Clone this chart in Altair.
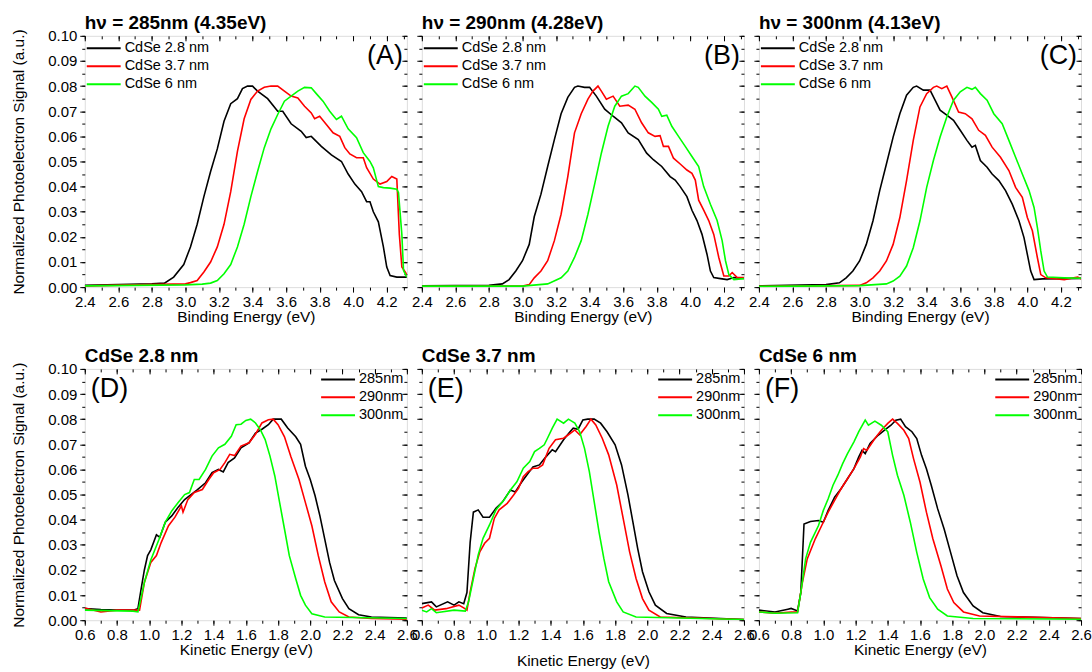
import altair as alt
import pandas as pd

FONT = "Liberation Sans"
W, H = 323, 252
COLORS = ["#000000", "#ff0000", "#00ff00"]
TOP_LABELS = ["CdSe 2.8 nm", "CdSe 3.7 nm", "CdSe 6 nm"]
BOT_LABELS = ["285nm", "290nm", "300nm"]
Y_LABEL = "Normalized Photoelectron Signal (a.u.)"

Y_TICKS = [round(i * 0.01, 2) for i in range(11)]
Y_MINOR = [round(i * 0.005, 3) for i in range(21)]
BE_TICKS = [2.4, 2.6, 2.8, 3.0, 3.2, 3.4, 3.6, 3.8, 4.0, 4.2]
BE_MINOR = [2.4, 2.5, 2.6, 2.7, 2.8, 2.9, 3.0, 3.1, 3.2, 3.3, 3.4, 3.5, 3.6, 3.7, 3.8, 3.9, 4.0, 4.1, 4.2, 4.3]
KE_TICKS = [0.6, 0.8, 1.0, 1.2, 1.4, 1.6, 1.8, 2.0, 2.2, 2.4, 2.6]
KE_MINOR = [0.6, 0.7, 0.8, 0.9, 1.0, 1.1, 1.2, 1.3, 1.4, 1.5, 1.6, 1.7, 1.8, 1.9, 2.0, 2.1, 2.2, 2.3, 2.4, 2.5, 2.6]
BE_DOMAIN = [2.4, 4.32]
KE_DOMAIN = [0.6, 2.6]

# ---------------- Panel A: hv = 285 nm ----------------
A_28_X = [2.40, 2.80, 2.875, 2.93, 2.99, 3.03, 3.07, 3.11, 3.15, 3.19, 3.23, 3.27, 3.31, 3.34, 3.37, 3.40, 3.43, 3.49, 3.55, 3.58, 3.63, 3.69, 3.72, 3.75, 3.81, 3.87, 3.93, 3.97, 4.01, 4.05, 4.08, 4.10, 4.12, 4.15, 4.18, 4.20, 4.22, 4.26, 4.32]
A_28_Y = [0.0007, 0.0013, 0.0016, 0.004, 0.009, 0.016, 0.025, 0.036, 0.046, 0.055, 0.066, 0.073, 0.075, 0.079, 0.080, 0.080, 0.078, 0.075, 0.070, 0.070, 0.065, 0.062, 0.0595, 0.060, 0.056, 0.0526, 0.050, 0.045, 0.041, 0.038, 0.034, 0.034, 0.030, 0.026, 0.016, 0.008, 0.0046, 0.004, 0.004]
A_37_X = [2.40, 3.00, 3.03, 3.07, 3.11, 3.15, 3.19, 3.23, 3.27, 3.31, 3.35, 3.39, 3.43, 3.47, 3.51, 3.55, 3.59, 3.63, 3.67, 3.71, 3.75, 3.77, 3.80, 3.84, 3.88, 3.92, 3.95, 3.98, 4.02, 4.06, 4.08, 4.12, 4.16, 4.20, 4.23, 4.26, 4.275, 4.29, 4.32]
A_37_Y = [0.0005, 0.0013, 0.0018, 0.0026, 0.006, 0.010, 0.016, 0.025, 0.038, 0.054, 0.067, 0.0747, 0.078, 0.0795, 0.080, 0.080, 0.078, 0.076, 0.0753, 0.072, 0.0693, 0.067, 0.068, 0.0647, 0.0614, 0.060, 0.0555, 0.053, 0.0515, 0.0515, 0.0475, 0.043, 0.041, 0.042, 0.044, 0.043, 0.021, 0.008, 0.005]
A_60_X = [2.40, 3.00, 3.10, 3.15, 3.19, 3.23, 3.27, 3.31, 3.35, 3.39, 3.43, 3.47, 3.51, 3.55, 3.59, 3.63, 3.67, 3.71, 3.75, 3.78, 3.82, 3.86, 3.90, 3.93, 3.97, 4.02, 4.06, 4.10, 4.12, 4.15, 4.18, 4.22, 4.26, 4.27, 4.29, 4.30, 4.32]
A_60_Y = [0.0005, 0.0009, 0.0012, 0.0016, 0.0026, 0.0053, 0.009, 0.016, 0.025, 0.036, 0.046, 0.0555, 0.063, 0.0687, 0.074, 0.076, 0.078, 0.0795, 0.0793, 0.077, 0.074, 0.070, 0.0667, 0.068, 0.063, 0.0595, 0.0535, 0.050, 0.0475, 0.040, 0.0396, 0.0394, 0.039, 0.0376, 0.021, 0.0066, 0.004]

# ---------------- Panel B: hv = 290 nm ----------------
B_28_X = [2.40, 2.80, 2.88, 2.92, 2.96, 3.00, 3.04, 3.07, 3.11, 3.15, 3.19, 3.23, 3.27, 3.31, 3.33, 3.37, 3.40, 3.44, 3.49, 3.54, 3.59, 3.63, 3.69, 3.74, 3.78, 3.83, 3.88, 3.91, 3.94, 3.98, 4.01, 4.04, 4.07, 4.10, 4.12, 4.14, 4.18, 4.22, 4.26, 4.32]
B_28_Y = [0.0005, 0.0007, 0.0013, 0.003, 0.0064, 0.0105, 0.017, 0.028, 0.037, 0.048, 0.0587, 0.069, 0.0755, 0.0795, 0.080, 0.0795, 0.0795, 0.076, 0.0708, 0.068, 0.0654, 0.0614, 0.0587, 0.0533, 0.0507, 0.048, 0.044, 0.0426, 0.040, 0.036, 0.0306, 0.0265, 0.021, 0.013, 0.0064, 0.0038, 0.0034, 0.003, 0.0038, 0.0035]
B_37_X = [2.40, 3.00, 3.04, 3.07, 3.11, 3.15, 3.19, 3.23, 3.27, 3.31, 3.35, 3.39, 3.42, 3.45, 3.47, 3.50, 3.54, 3.58, 3.63, 3.67, 3.71, 3.75, 3.79, 3.82, 3.84, 3.87, 3.90, 3.94, 3.98, 4.01, 4.03, 4.05, 4.08, 4.11, 4.14, 4.17, 4.20, 4.23, 4.25, 4.28, 4.32]
B_37_Y = [0.0003, 0.0004, 0.001, 0.0037, 0.0064, 0.0105, 0.0185, 0.029, 0.044, 0.0614, 0.069, 0.0748, 0.078, 0.080, 0.078, 0.0748, 0.076, 0.072, 0.0724, 0.0708, 0.0654, 0.0614, 0.060, 0.0603, 0.056, 0.056, 0.0513, 0.049, 0.0466, 0.0453, 0.0426, 0.0346, 0.0306, 0.0265, 0.021, 0.0118, 0.0044, 0.0044, 0.0058, 0.0038, 0.0038]
B_60_X = [2.40, 3.00, 3.15, 3.23, 3.27, 3.31, 3.35, 3.39, 3.43, 3.47, 3.51, 3.55, 3.59, 3.63, 3.67, 3.69, 3.73, 3.77, 3.81, 3.83, 3.86, 3.89, 3.93, 3.97, 4.01, 4.05, 4.08, 4.12, 4.16, 4.19, 4.21, 4.23, 4.26, 4.32]
B_60_Y = [0.0004, 0.0004, 0.0013, 0.0037, 0.0064, 0.0118, 0.0185, 0.029, 0.041, 0.0533, 0.064, 0.072, 0.076, 0.077, 0.080, 0.0795, 0.076, 0.0735, 0.0708, 0.068, 0.0684, 0.064, 0.060, 0.056, 0.052, 0.048, 0.040, 0.033, 0.0265, 0.0185, 0.0105, 0.005, 0.003, 0.0034]

# ---------------- Panel C: hv = 300 nm ----------------
C_28_X = [2.40, 2.80, 2.88, 2.92, 2.96, 3.00, 3.04, 3.08, 3.12, 3.16, 3.20, 3.24, 3.28, 3.32, 3.34, 3.38, 3.42, 3.45, 3.48, 3.52, 3.56, 3.60, 3.64, 3.67, 3.69, 3.72, 3.76, 3.79, 3.83, 3.87, 3.91, 3.95, 3.98, 4.00, 4.02, 4.04, 4.09, 4.22, 4.33]
C_28_Y = [0.0005, 0.001, 0.0017, 0.0037, 0.0064, 0.0104, 0.017, 0.0264, 0.0384, 0.049, 0.0597, 0.069, 0.0764, 0.0795, 0.080, 0.0784, 0.0784, 0.0744, 0.0704, 0.0684, 0.0664, 0.0624, 0.0584, 0.0557, 0.0564, 0.0504, 0.0477, 0.045, 0.0424, 0.0384, 0.033, 0.0264, 0.0197, 0.013, 0.0064, 0.003, 0.0033, 0.0034, 0.0035]
C_37_X = [2.40, 3.00, 3.04, 3.08, 3.12, 3.16, 3.20, 3.24, 3.28, 3.32, 3.36, 3.40, 3.44, 3.46, 3.49, 3.52, 3.55, 3.59, 3.63, 3.67, 3.71, 3.75, 3.79, 3.84, 3.89, 3.93, 3.97, 4.00, 4.03, 4.06, 4.08, 4.11, 4.22, 4.30, 4.33]
C_37_Y = [0.0003, 0.0007, 0.0017, 0.0037, 0.0064, 0.0104, 0.017, 0.0277, 0.0424, 0.0584, 0.0717, 0.077, 0.0795, 0.080, 0.079, 0.080, 0.0757, 0.0697, 0.069, 0.067, 0.0624, 0.0604, 0.0557, 0.0517, 0.0464, 0.0397, 0.0357, 0.0277, 0.0224, 0.0117, 0.005, 0.0037, 0.003, 0.004, 0.003]
C_60_X = [2.40, 3.00, 3.16, 3.20, 3.24, 3.28, 3.32, 3.36, 3.40, 3.44, 3.48, 3.52, 3.56, 3.60, 3.64, 3.67, 3.69, 3.72, 3.76, 3.80, 3.85, 3.89, 3.93, 3.97, 4.01, 4.04, 4.06, 4.08, 4.10, 4.12, 4.22, 4.33]
C_60_Y = [0.0003, 0.0006, 0.0013, 0.0024, 0.0044, 0.0084, 0.0157, 0.0264, 0.0397, 0.0504, 0.0597, 0.0677, 0.0744, 0.0777, 0.0795, 0.0787, 0.0795, 0.077, 0.0744, 0.069, 0.065, 0.0584, 0.0517, 0.045, 0.0384, 0.0317, 0.0237, 0.0144, 0.0064, 0.004, 0.0037, 0.0035]

# ---------------- Panel D: CdSe 2.8 nm ----------------
D_285_X = [0.60, 0.70, 0.80, 0.90, 0.93, 0.95, 0.97, 0.99, 1.01, 1.045, 1.066, 1.10, 1.14, 1.18, 1.22, 1.26, 1.30, 1.35, 1.39, 1.43, 1.46, 1.49, 1.53, 1.57, 1.62, 1.66, 1.70, 1.74, 1.77, 1.82, 1.86, 1.91, 1.94, 1.97, 2.00, 2.03, 2.06, 2.09, 2.12, 2.15, 2.20, 2.24, 2.30, 2.38, 2.60]
D_285_Y = [0.0046, 0.0042, 0.004, 0.004, 0.0046, 0.0125, 0.020, 0.0257, 0.028, 0.034, 0.033, 0.039, 0.0415, 0.045, 0.048, 0.050, 0.052, 0.0547, 0.0587, 0.060, 0.059, 0.0627, 0.0646, 0.0686, 0.0706, 0.0745, 0.076, 0.0778, 0.080, 0.080, 0.0765, 0.073, 0.070, 0.0613, 0.056, 0.0495, 0.0415, 0.0323, 0.023, 0.0158, 0.0086, 0.0046, 0.0022, 0.0013, 0.0009]
D_290_X = [0.60, 0.70, 0.80, 0.90, 0.94, 0.97, 1.01, 1.045, 1.075, 1.12, 1.16, 1.20, 1.21, 1.24, 1.28, 1.33, 1.37, 1.40, 1.44, 1.47, 1.50, 1.53, 1.57, 1.62, 1.66, 1.70, 1.74, 1.77, 1.80, 1.84, 1.88, 1.93, 1.97, 2.01, 2.05, 2.09, 2.13, 2.18, 2.24, 2.38, 2.60]
D_290_Y = [0.0049, 0.0033, 0.004, 0.004, 0.004, 0.015, 0.023, 0.0257, 0.031, 0.0376, 0.041, 0.0455, 0.043, 0.048, 0.0508, 0.052, 0.056, 0.0587, 0.060, 0.0627, 0.066, 0.0655, 0.0693, 0.0706, 0.074, 0.0785, 0.0798, 0.080, 0.0778, 0.073, 0.065, 0.056, 0.0468, 0.0376, 0.0257, 0.0152, 0.0073, 0.0033, 0.0013, 0.0007, 0.0004]
D_300_X = [0.60, 0.90, 0.93, 0.97, 1.01, 1.06, 1.10, 1.14, 1.18, 1.22, 1.25, 1.28, 1.31, 1.35, 1.39, 1.43, 1.47, 1.51, 1.54, 1.57, 1.60, 1.63, 1.66, 1.69, 1.72, 1.75, 1.78, 1.81, 1.84, 1.87, 1.91, 1.94, 1.97, 2.01, 2.09, 2.60]
D_300_Y = [0.004, 0.0036, 0.0033, 0.015, 0.024, 0.032, 0.039, 0.0435, 0.0468, 0.050, 0.0508, 0.056, 0.056, 0.060, 0.0653, 0.0686, 0.070, 0.0732, 0.0778, 0.078, 0.0795, 0.080, 0.0785, 0.0758, 0.0719, 0.0653, 0.0574, 0.0468, 0.0363, 0.0257, 0.0165, 0.0099, 0.006, 0.0026, 0.0013, 0.0007]

# ---------------- Panel E: CdSe 3.7 nm ----------------
E_285_X = [0.60, 0.66, 0.69, 0.76, 0.80, 0.83, 0.86, 0.88, 0.90, 0.92, 0.95, 0.98, 1.02, 1.06, 1.10, 1.15, 1.18, 1.22, 1.26, 1.29, 1.33, 1.37, 1.41, 1.43, 1.48, 1.52, 1.54, 1.57, 1.60, 1.63, 1.67, 1.71, 1.75, 1.80, 1.84, 1.88, 1.91, 1.94, 1.97, 2.01, 2.05, 2.12, 2.24, 2.60]
E_285_Y = [0.0066, 0.0073, 0.0053, 0.0073, 0.006, 0.0073, 0.0066, 0.011, 0.031, 0.043, 0.0439, 0.041, 0.041, 0.0445, 0.047, 0.0518, 0.051, 0.055, 0.0585, 0.061, 0.0618, 0.065, 0.0678, 0.0671, 0.0718, 0.075, 0.0764, 0.076, 0.0797, 0.080, 0.080, 0.0784, 0.075, 0.0698, 0.0618, 0.0498, 0.0392, 0.0286, 0.0193, 0.0113, 0.006, 0.0027, 0.0013, 0.0003]
E_290_X = [0.60, 0.64, 0.68, 0.75, 0.83, 0.86, 0.88, 0.90, 0.93, 0.96, 0.99, 1.02, 1.05, 1.08, 1.13, 1.17, 1.20, 1.23, 1.26, 1.29, 1.32, 1.35, 1.39, 1.43, 1.48, 1.51, 1.55, 1.58, 1.62, 1.65, 1.68, 1.72, 1.76, 1.81, 1.85, 1.89, 1.93, 1.97, 2.01, 2.08, 2.60]
E_290_Y = [0.0049, 0.006, 0.004, 0.0046, 0.006, 0.0049, 0.004, 0.0113, 0.0206, 0.0272, 0.0306, 0.0326, 0.0405, 0.0439, 0.0465, 0.0498, 0.0525, 0.0571, 0.0591, 0.0605, 0.0605, 0.0618, 0.0684, 0.0718, 0.0724, 0.0738, 0.0757, 0.0738, 0.0771, 0.080, 0.0777, 0.0724, 0.0658, 0.0538, 0.0405, 0.0272, 0.0166, 0.0086, 0.004, 0.0013, 0.0003]
E_300_X = [0.60, 0.63, 0.66, 0.69, 0.80, 0.87, 0.89, 0.92, 0.95, 0.98, 1.02, 1.06, 1.11, 1.15, 1.19, 1.23, 1.27, 1.30, 1.33, 1.36, 1.38, 1.41, 1.44, 1.48, 1.51, 1.55, 1.58, 1.61, 1.64, 1.67, 1.70, 1.73, 1.76, 1.81, 1.85, 1.93, 2.60]
E_300_Y = [0.004, 0.0033, 0.0046, 0.003, 0.004, 0.0036, 0.0073, 0.0166, 0.026, 0.0326, 0.0379, 0.0439, 0.0478, 0.0518, 0.0551, 0.0605, 0.0631, 0.0671, 0.0684, 0.0698, 0.0724, 0.0764, 0.080, 0.0784, 0.080, 0.0784, 0.075, 0.0684, 0.0591, 0.0472, 0.0352, 0.0246, 0.0153, 0.0073, 0.0033, 0.0013, 0.0003]

# ---------------- Panel F: CdSe 6 nm ----------------
F_285_X = [0.60, 0.70, 0.78, 0.80, 0.84, 0.86, 0.88, 0.92, 0.97, 1.00, 1.03, 1.07, 1.11, 1.15, 1.19, 1.22, 1.24, 1.26, 1.29, 1.34, 1.38, 1.42, 1.45, 1.48, 1.51, 1.55, 1.58, 1.61, 1.64, 1.67, 1.71, 1.75, 1.79, 1.83, 1.87, 1.93, 1.99, 2.10, 2.60]
F_285_Y = [0.004, 0.0033, 0.0044, 0.0047, 0.0037, 0.011, 0.0383, 0.0393, 0.0397, 0.039, 0.0437, 0.049, 0.0523, 0.0563, 0.0603, 0.065, 0.0676, 0.0663, 0.0703, 0.0736, 0.0756, 0.0776, 0.0796, 0.080, 0.077, 0.075, 0.0723, 0.0656, 0.0603, 0.0537, 0.0443, 0.0363, 0.027, 0.0177, 0.011, 0.0057, 0.003, 0.0015, 0.0007]
F_290_X = [0.60, 0.70, 0.80, 0.84, 0.87, 0.90, 0.95, 0.99, 1.03, 1.07, 1.11, 1.15, 1.19, 1.23, 1.25, 1.27, 1.32, 1.36, 1.40, 1.43, 1.46, 1.50, 1.53, 1.56, 1.60, 1.64, 1.68, 1.73, 1.77, 1.81, 1.87, 1.97, 2.60]
F_290_Y = [0.0033, 0.0028, 0.0033, 0.0033, 0.015, 0.0244, 0.0324, 0.0377, 0.043, 0.0477, 0.0523, 0.0563, 0.0603, 0.065, 0.0683, 0.0676, 0.0723, 0.0756, 0.0783, 0.080, 0.0783, 0.0756, 0.0723, 0.0643, 0.055, 0.043, 0.0324, 0.0217, 0.0124, 0.007, 0.0033, 0.0017, 0.0007]
F_300_X = [0.60, 0.70, 0.84, 0.86, 0.89, 0.92, 0.97, 1.00, 1.03, 1.06, 1.09, 1.12, 1.15, 1.19, 1.22, 1.26, 1.28, 1.32, 1.36, 1.40, 1.43, 1.46, 1.50, 1.54, 1.58, 1.62, 1.66, 1.71, 1.77, 1.93, 2.60]
F_300_Y = [0.0033, 0.0028, 0.003, 0.011, 0.0244, 0.031, 0.0377, 0.0437, 0.0483, 0.0537, 0.0577, 0.0623, 0.0663, 0.071, 0.075, 0.0796, 0.0776, 0.0792, 0.0776, 0.075, 0.0656, 0.0577, 0.0497, 0.039, 0.027, 0.0164, 0.009, 0.0044, 0.0017, 0.0007, 0.0004]


def make_axis(orient, values, size, offset=0, labels=False, title=None, fmt=".1f",
              label_pad=3, title_pad=2, title_size=15.5):
    kw = dict(orient=orient, values=values, tickSize=size, grid=False, domain=False,
              labels=labels, tickColor="black", tickWidth=1, title=title,
              labelFlush=False, labelOverlap=False)
    if offset:
        kw["offset"] = offset
    if labels:
        kw.update(format=fmt, labelFontSize=15, labelFont=FONT, labelColor="black",
                  labelPadding=label_pad)
    if title:
        kw.update(titleFontSize=title_size, titleFont=FONT, titleFontWeight="normal",
                  titleColor="black", titlePadding=title_pad)
    return alt.Axis(**kw)


def panel(series, labels, xdomain, xmaj, xmin, xtitle, show_y, title, letter, top_row,
          xtitle_pad=0):
    rows = []
    for lab, (xs, ys) in zip(labels, series):
        assert len(xs) == len(ys), (lab, len(xs), len(ys))
        for a, b in zip(xs, ys):
            rows.append({"x": a, "y": b, "s": lab})
    df = pd.DataFrame(rows)
    xs = alt.Scale(domain=xdomain, nice=False, zero=False)
    ys = alt.Scale(domain=[0, 0.1], nice=False)

    common = dict(title=None, padding=0, symbolType="stroke", symbolSize=1156,
                  symbolStrokeWidth=2, clipHeight=15, labelFontSize=14.5, labelFont=FONT,
                  labelColor="black", labelOffset=3, rowPadding=2)
    if top_row:
        legend = alt.Legend(orient="none", legendX=1, legendY=5, **common)
    else:
        legend = alt.Legend(orient="top-right", offset=3, **common)

    y_main = make_axis("left", Y_TICKS, 5, labels=show_y,
                       title=Y_LABEL if show_y else None, fmt=".2f",
                       title_pad=21, title_size=15.5)
    main = alt.Chart(df).mark_line(clip=True, strokeWidth=1.6).encode(
        x=alt.X("x:Q", scale=xs, axis=make_axis("bottom", xmaj, 5, labels=True,
                                                 title=xtitle, label_pad=2, title_pad=xtitle_pad)),
        y=alt.Y("y:Q", scale=ys, axis=y_main),
        color=alt.Color("s:N", scale=alt.Scale(domain=labels, range=COLORS), legend=legend),
    )
    minor_out = alt.Chart(df).mark_line(strokeOpacity=0).encode(
        x=alt.X("x:Q", scale=xs, axis=make_axis("bottom", xmin, 3)),
        y=alt.Y("y:Q", scale=ys, axis=make_axis("left", Y_MINOR, 3)),
    )
    major_in = alt.Chart(df).mark_line(strokeOpacity=0).encode(
        x=alt.X("x:Q", scale=xs, axis=make_axis("top", xmaj, 5, offset=-5)),
        y=alt.Y("y:Q", scale=ys, axis=make_axis("right", Y_TICKS, 5, offset=-5)),
    )
    minor_in = alt.Chart(df).mark_line(strokeOpacity=0).encode(
        x=alt.X("x:Q", scale=xs, axis=make_axis("top", xmin, 3, offset=-3)),
        y=alt.Y("y:Q", scale=ys, axis=make_axis("right", Y_MINOR, 3, offset=-3)),
    )
    txt = alt.Chart(pd.DataFrame({"t": [letter]})).mark_text(
        font=FONT, fontSize=27, align="right" if top_row else "left",
        baseline="middle", color="black"
    ).encode(text="t:N", x=alt.value(W - 4 if top_row else 6), y=alt.value(20))
    head = alt.Chart(pd.DataFrame({"t": [title]})).mark_text(
        font=FONT, fontSize=19, fontWeight="bold", align="left",
        baseline="alphabetic", color="black"
    ).encode(text="t:N", x=alt.value(0), y=alt.value(-7))

    return alt.layer(main, minor_out, major_in, minor_in, txt, head).resolve_axis(
        x="independent", y="independent"
    ).properties(width=W, height=H)


pA = panel([(A_28_X, A_28_Y), (A_37_X, A_37_Y), (A_60_X, A_60_Y)], TOP_LABELS, BE_DOMAIN,
           BE_TICKS, BE_MINOR, "Binding Energy (eV)", True, "h\u03bd = 285nm (4.35eV)", "(A)", True)
pB = panel([(B_28_X, B_28_Y), (B_37_X, B_37_Y), (B_60_X, B_60_Y)], TOP_LABELS, BE_DOMAIN,
           BE_TICKS, BE_MINOR, "Binding Energy (eV)", False, "h\u03bd = 290nm (4.28eV)", "(B)", True)
pC = panel([(C_28_X, C_28_Y), (C_37_X, C_37_Y), (C_60_X, C_60_Y)], TOP_LABELS, BE_DOMAIN,
           BE_TICKS, BE_MINOR, "Binding Energy (eV)", False, "h\u03bd = 300nm (4.13eV)", "(C)", True)
pD = panel([(D_285_X, D_285_Y), (D_290_X, D_290_Y), (D_300_X, D_300_Y)], BOT_LABELS, KE_DOMAIN,
           KE_TICKS, KE_MINOR, "Kinetic Energy (eV)", True, "CdSe 2.8 nm", "(D)", False)
pE = panel([(E_285_X, E_285_Y), (E_290_X, E_290_Y), (E_300_X, E_300_Y)], BOT_LABELS, KE_DOMAIN,
           KE_TICKS, KE_MINOR, "Kinetic Energy (eV)", False, "CdSe 3.7 nm", "(E)", False,
           xtitle_pad=11)
pF = panel([(F_285_X, F_285_Y), (F_290_X, F_290_Y), (F_300_X, F_300_Y)], BOT_LABELS, KE_DOMAIN,
           KE_TICKS, KE_MINOR, "Kinetic Energy (eV)", False, "CdSe 6 nm", "(F)", False)

chart = alt.concat(
    pA, pB, pC, pD, pE, pF, columns=3, spacing={"row": 82, "column": 15}, bounds="flush"
).resolve_scale(
    x="independent", y="independent", color="independent"
).resolve_legend(
    color="independent"
).configure_view(
    stroke="black", strokeWidth=1
).configure(
    padding={"left": 11, "top": 12, "right": 0, "bottom": 0}, background="white"
)

chart.save("out.html", embed_options={"renderer": "svg", "actions": False})
